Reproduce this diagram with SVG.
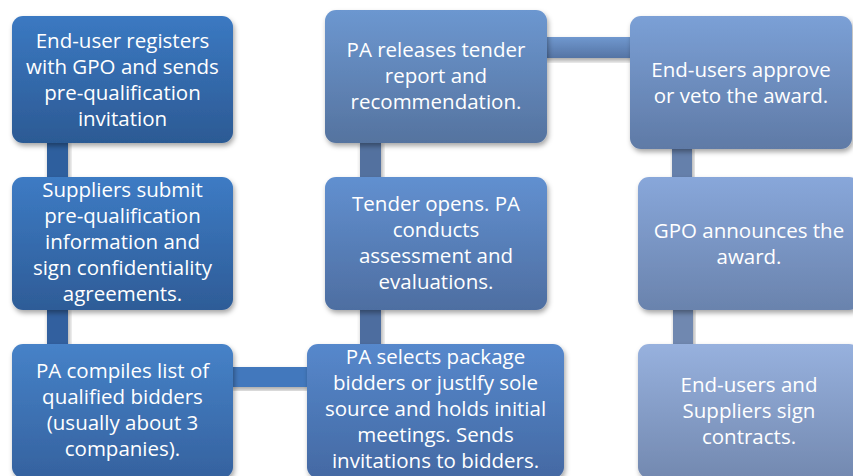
<svg xmlns="http://www.w3.org/2000/svg" width="853" height="476" viewBox="0 0 853 476">
  <defs>
    <filter id="shadow" x="-10%" y="-10%" width="125%" height="130%">
      <feDropShadow dx="1.5" dy="3" stdDeviation="2.5" flood-color="#000" flood-opacity="0.35"/>
    </filter>
    <linearGradient id="g1" x1="0" y1="0" x2="0" y2="1"><stop offset="0" stop-color="#3b79c2"/><stop offset="1" stop-color="#2c5a94"/></linearGradient>
    <linearGradient id="g2" x1="0" y1="0" x2="0" y2="1"><stop offset="0" stop-color="#3d7bc4"/><stop offset="1" stop-color="#2e5c97"/></linearGradient>
    <linearGradient id="g3" x1="0" y1="0" x2="0" y2="1"><stop offset="0" stop-color="#4682c8"/><stop offset="1" stop-color="#35629f"/></linearGradient>
    <linearGradient id="g4" x1="0" y1="0" x2="0" y2="1"><stop offset="0" stop-color="#5688cc"/><stop offset="1" stop-color="#4469a3"/></linearGradient>
    <linearGradient id="g5" x1="0" y1="0" x2="0" y2="1"><stop offset="0" stop-color="#6190d0"/><stop offset="1" stop-color="#4e6ea1"/></linearGradient>
    <linearGradient id="g6" x1="0" y1="0" x2="0" y2="1"><stop offset="0" stop-color="#6c97d0"/><stop offset="1" stop-color="#55739f"/></linearGradient>
    <linearGradient id="g7" x1="0" y1="0" x2="0" y2="1"><stop offset="0" stop-color="#7ba0d6"/><stop offset="1" stop-color="#5f7aa6"/></linearGradient>
    <linearGradient id="g8" x1="0" y1="0" x2="0" y2="1"><stop offset="0" stop-color="#88a7da"/><stop offset="1" stop-color="#6a83ad"/></linearGradient>
    <linearGradient id="g9" x1="0" y1="0" x2="0" y2="1"><stop offset="0" stop-color="#97b1de"/><stop offset="1" stop-color="#7389b0"/></linearGradient>
    <linearGradient id="gh" x1="0" y1="0" x2="0" y2="1"><stop offset="0" stop-color="#7098cf"/><stop offset="1" stop-color="#5574a4"/></linearGradient>
  </defs>
  <style>
    .box { filter: url(#shadow); }
    .lbl { font-family: "Open Sans", "Noto Sans", sans-serif; font-size: 20.5px; fill: #ffffff; text-anchor: middle; }
    .link { filter: url(#shadow); }
  </style>

  <!-- connectors between steps -->
  <g id="connectors">
    <rect class="link" x="47" y="140" width="21" height="40" fill="#2f5f9e"/>
    <rect class="link" x="47" y="307" width="21" height="40" fill="#30609f"/>
    <rect class="link" x="230" y="367" width="80" height="20" fill="#4278bd"/>
    <rect class="link" x="360" y="307" width="21" height="40" fill="#4d6d9f"/>
    <rect class="link" x="360" y="140" width="21" height="40" fill="#52719f"/>
    <rect class="link" x="544" y="37" width="89" height="21" fill="url(#gh)"/>
    <rect class="link" x="672" y="146" width="20" height="34" fill="#6580ab"/>
    <rect class="link" x="673" y="307" width="20" height="40" fill="#7088b0"/>
  </g>

  <g id="step1">
    <rect class="box" x="12" y="16" width="221" height="127" rx="11" fill="url(#g1)"/>
    <text class="lbl"><tspan x="122.5" y="48">End-user registers</tspan><tspan x="122.5" y="74">with GPO and sends</tspan><tspan x="122.5" y="100">pre-qualification</tspan><tspan x="122.5" y="126">invitation</tspan></text>
  </g>

  <g id="step2">
    <rect class="box" x="12" y="177" width="221" height="133" rx="11" fill="url(#g2)"/>
    <text class="lbl"><tspan x="122.5" y="197">Suppliers submit</tspan><tspan x="122.5" y="223">pre-qualification</tspan><tspan x="122.5" y="249">information and</tspan><tspan x="122.5" y="275">sign confidentiality</tspan><tspan x="122.5" y="301">agreements.</tspan></text>
  </g>

  <g id="step3">
    <rect class="box" x="12" y="344" width="221" height="134" rx="11" fill="url(#g3)"/>
    <text class="lbl"><tspan x="122.5" y="378">PA compiles list of</tspan><tspan x="122.5" y="404">qualified bidders</tspan><tspan x="122.5" y="430">(usually about 3</tspan><tspan x="122.5" y="456">companies).</tspan></text>
  </g>

  <g id="step4">
    <rect class="box" x="307" y="344" width="257" height="134" rx="11" fill="url(#g4)"/>
    <text class="lbl"><tspan x="435.5" y="364">PA selects package</tspan><tspan x="435.5" y="390">bidders or justlfy sole</tspan><tspan x="435.5" y="416">source and holds initial</tspan><tspan x="435.5" y="442">meetings. Sends</tspan><tspan x="435.5" y="468">invitations to bidders.</tspan></text>
  </g>

  <g id="step5">
    <rect class="box" x="325" y="177" width="222" height="133" rx="11" fill="url(#g5)"/>
    <text class="lbl"><tspan x="436" y="211">Tender opens. PA</tspan><tspan x="436" y="237">conducts</tspan><tspan x="436" y="263">assessment and</tspan><tspan x="436" y="289">evaluations.</tspan></text>
  </g>

  <g id="step6">
    <rect class="box" x="325" y="10" width="222" height="133" rx="11" fill="url(#g6)"/>
    <text class="lbl"><tspan x="436" y="57">PA releases tender</tspan><tspan x="436" y="83">report and</tspan><tspan x="436" y="109">recommendation.</tspan></text>
  </g>

  <g id="step7">
    <rect class="box" x="630" y="16" width="222" height="133" rx="11" fill="url(#g7)"/>
    <text class="lbl"><tspan x="741" y="77">End-users approve</tspan><tspan x="741" y="103">or veto the award.</tspan></text>
  </g>

  <g id="step8">
    <rect class="box" x="638" y="177" width="222" height="133" rx="11" fill="url(#g8)"/>
    <text class="lbl"><tspan x="749" y="238">GPO announces the</tspan><tspan x="749" y="264">award.</tspan></text>
  </g>

  <g id="step9">
    <rect class="box" x="638" y="344" width="222" height="134" rx="11" fill="url(#g9)"/>
    <text class="lbl"><tspan x="749" y="392">End-users and</tspan><tspan x="749" y="418">Suppliers sign</tspan><tspan x="749" y="444">contracts.</tspan></text>
  </g>
</svg>
